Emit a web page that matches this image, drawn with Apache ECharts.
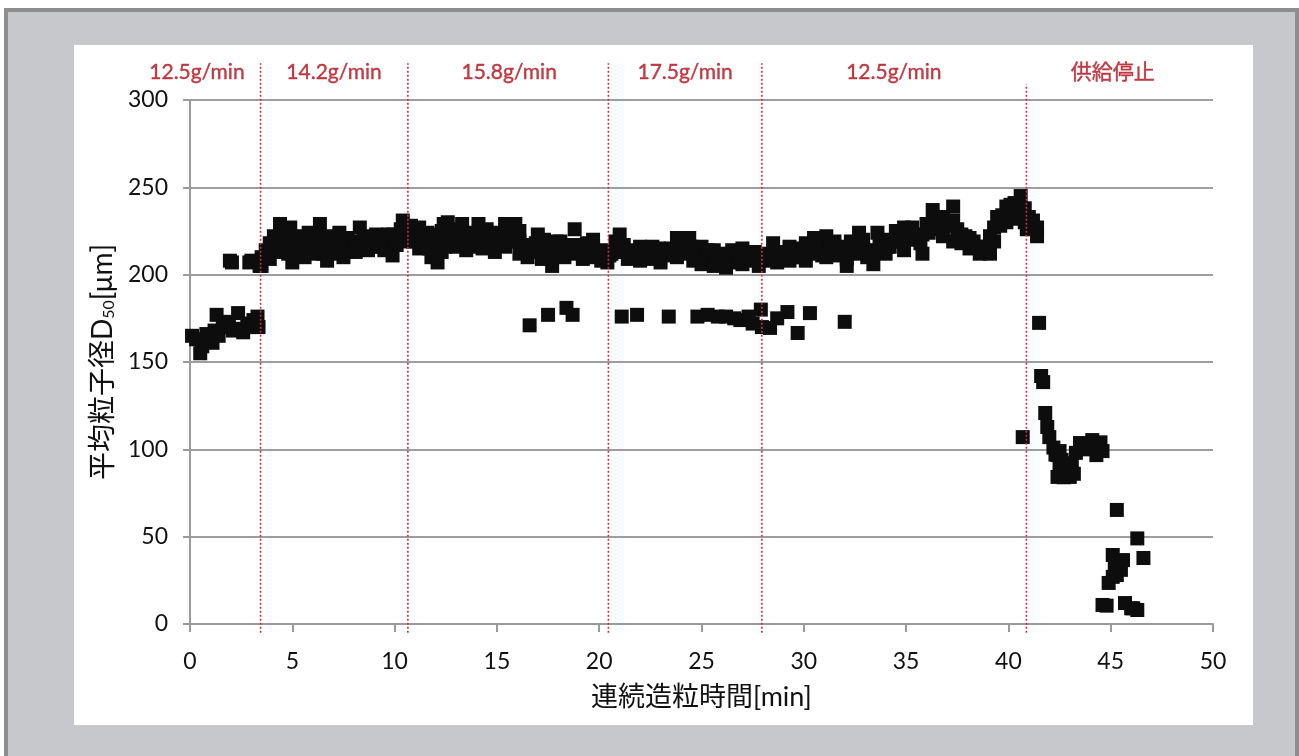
<!DOCTYPE html>
<html>
<head>
<meta charset="utf-8">
<script src="https://cdn.jsdelivr.net/npm/echarts@6/dist/echarts.min.js"></script>
<style>
  html, body { margin: 0; padding: 0; background: #ffffff; }
  #frame {
    position: absolute; left: 4px; top: 8px; width: 1287px; height: 748px;
    background: #c6c8cb; border: 4px solid #8e8e8e; border-bottom: none;
  }
  #panel {
    position: absolute; left: 74px; top: 45px; width: 1179px; height: 680px;
    background: #ffffff;
  }
  #chart { position: absolute; left: 0; top: 0; width: 1299px; height: 756px; }
</style>
</head>
<body>
<div id="frame"></div>
<div id="panel"></div>
<div id="chart"></div>
<script>
// Start-up at 12.5 g/min: [time (min), D50 (µm)]
const startPhase = [
  [0.1, 165], [0.3, 163], [0.5, 155], [0.6, 159], [0.8, 166], [0.9, 162],
  [1.1, 161], [1.2, 168], [1.3, 177], [1.4, 165], [1.6, 170], [1.8, 170],
  [1.9, 173], [2.1, 168], [2.35, 178], [2.45, 169], [2.6, 167], [2.8, 172],
  [2.9, 170], [3.1, 174], [3.3, 176], [3.35, 170],
  [1.95, 208], [2.05, 207], [2.9, 207], [3.0, 208], [3.4, 205]
];

// Main granulation band: [time (min), D50 (µm)]
const mainBand = [
  [3.5, 210], [3.5, 205], [3.7, 214], [3.9, 218], [3.9, 209], [4.1, 222],
  [4.3, 216], [4.4, 229], [4.5, 213], [4.6, 225], [4.8, 219], [4.9, 227],
  [5.0, 207], [5.0, 216], [5.2, 222], [5.4, 214], [5.6, 219], [5.6, 210],
  [5.8, 224], [6.0, 215], [6.2, 212], [6.2, 221], [6.35, 229], [6.5, 217],
  [6.7, 208], [6.7, 222], [6.9, 214], [7.1, 219], [7.3, 212], [7.3, 224],
  [7.5, 210], [7.5, 217], [7.7, 221], [7.9, 215], [8.1, 219], [8.1, 213],
  [8.3, 227], [8.5, 218], [8.7, 214], [8.7, 222], [8.9, 220], [9.1, 216],
  [9.1, 223], [9.3, 221], [9.5, 214], [9.7, 219], [9.9, 211], [9.9, 223],
  [10.1, 217], [10.3, 226], [10.4, 231], [10.6, 225], [10.6, 219], [10.8, 228],
  [11.0, 222], [11.2, 227], [11.2, 215], [11.4, 220], [11.6, 224], [11.8, 210],
  [11.8, 218], [12.0, 223], [12.1, 207], [12.3, 213], [12.3, 225], [12.4, 229],
  [12.6, 230], [12.6, 219], [12.8, 222], [13.0, 216], [13.0, 226], [13.3, 229],
  [13.5, 220], [13.5, 214], [13.7, 224], [13.9, 218], [14.1, 229], [14.1, 221],
  [14.3, 215], [14.5, 226], [14.7, 219], [14.9, 224], [14.9, 213], [15.1, 221],
  [15.4, 229], [15.4, 216], [15.6, 223], [15.9, 229], [16.1, 219], [16.1, 212],
  [16.3, 215], [16.5, 210], [16.7, 217], [17.0, 223], [17.0, 213], [17.2, 209],
  [17.4, 216], [17.7, 205], [17.7, 212], [17.9, 219], [18.1, 214], [18.3, 210],
  [18.5, 217], [18.8, 226], [18.8, 212], [19.0, 215], [19.2, 209], [19.4, 218],
  [19.7, 220], [19.7, 210], [19.9, 213], [20.1, 208], [20.3, 214], [20.4, 207],
  [20.6, 212], [20.8, 219], [21.0, 223], [21.0, 213], [21.2, 217], [21.4, 209],
  [21.6, 214], [21.8, 211], [22.0, 216], [22.0, 208], [22.2, 212], [22.4, 209],
  [22.6, 216], [22.8, 210], [23.0, 213], [23.0, 207], [23.2, 211], [23.5, 215],
  [23.8, 221], [23.8, 210], [24.0, 214], [24.2, 219], [24.4, 221], [24.4, 212],
  [24.6, 208], [24.8, 213], [25.0, 216], [25.0, 206], [25.2, 211], [25.4, 209],
  [25.6, 214], [25.6, 205], [25.8, 208], [26.0, 212], [26.2, 204], [26.2, 210],
  [26.4, 207], [26.6, 211], [26.8, 208], [27.0, 215], [27.0, 206], [27.2, 210],
  [27.4, 208], [27.6, 213], [27.8, 209], [27.8, 205], [28.0, 212], [28.3, 210],
  [28.5, 218], [28.7, 207], [28.9, 213], [29.1, 210], [29.3, 216], [29.3, 208],
  [29.5, 212], [29.7, 215], [29.9, 210], [30.1, 218], [30.1, 208], [30.3, 213],
  [30.5, 221], [30.7, 212], [30.9, 216], [31.1, 222], [31.1, 210], [31.3, 214],
  [31.5, 219], [31.7, 211], [31.9, 216], [32.1, 205], [32.1, 213], [32.3, 219],
  [32.5, 212], [32.7, 224], [32.9, 215], [33.1, 210], [33.4, 206], [33.4, 214],
  [33.6, 224], [33.8, 217], [34.0, 220], [34.0, 212], [34.2, 216], [34.5, 225],
  [34.7, 219], [34.9, 227], [34.9, 214], [35.1, 221], [35.3, 227], [35.5, 220],
  [35.8, 212], [35.8, 223], [36.0, 229], [36.3, 237], [36.3, 226], [36.5, 231],
  [36.8, 233], [36.8, 222], [37.0, 228], [37.3, 239], [37.3, 219], [37.5, 226],
  [37.7, 218], [37.9, 222], [38.1, 215], [38.3, 219], [38.6, 212], [38.8, 216],
  [39.1, 212], [39.1, 222], [39.3, 227], [39.45, 233], [39.6, 228], [39.9, 239],
  [39.9, 230], [40.1, 235], [40.3, 241], [40.5, 236], [40.6, 245], [40.8, 238],
  [40.8, 230], [41.0, 233], [41.2, 228], [41.4, 227], [41.4, 222]
];

// Further readings inside the main band: [time (min), D50 (µm)]
const mainBandInner = [
  [4.0, 215], [4.4, 220], [4.8, 212], [5.3, 218], [5.7, 215], [6.1, 218],
  [6.5, 212], [6.9, 219], [7.3, 216], [7.7, 213], [8.1, 216], [8.5, 221],
  [8.9, 216], [9.3, 217], [9.7, 223], [10.1, 221], [10.5, 222], [10.9, 219],
  [11.3, 223], [11.7, 215], [12.1, 220], [12.5, 216], [12.9, 220], [13.3, 223],
  [13.7, 218], [14.1, 216], [14.5, 220], [14.9, 218], [15.3, 222], [15.7, 219],
  [16.1, 225], [16.5, 216], [16.9, 218], [17.3, 220], [17.7, 215], [18.1, 219],
  [18.5, 213], [18.9, 217], [19.3, 213], [19.7, 215], [20.1, 213], [20.5, 211],
  [20.9, 216], [21.3, 213], [21.7, 210], [22.1, 214], [22.5, 212], [22.9, 215],
  [23.3, 214], [23.7, 212], [24.1, 217], [24.5, 216], [24.9, 210], [25.3, 214],
  [25.7, 211], [26.1, 207], [26.5, 214], [26.9, 210], [27.3, 212], [27.7, 211],
  [28.1, 208], [28.5, 212], [28.9, 209], [29.3, 212], [29.7, 210], [30.1, 213],
  [30.5, 216], [30.9, 211], [31.3, 218], [31.7, 215], [32.1, 209], [32.5, 217],
  [32.9, 220], [33.3, 212], [33.7, 219], [34.1, 216], [34.5, 219], [34.9, 221],
  [35.3, 223], [35.7, 218], [36.1, 224], [36.5, 227], [36.9, 229], [37.3, 231],
  [37.7, 223], [38.1, 221], [38.5, 216], [38.9, 214], [39.3, 219], [39.7, 234],
  [40.1, 240], [40.5, 232], [40.9, 226], [41.2, 231]
];

// Secondary population around 175 µm: [time (min), D50 (µm)]
const lowerBand = [
  [16.6, 171], [17.5, 177], [18.4, 181], [18.7, 177], [21.1, 176], [21.85, 177],
  [23.4, 176], [24.8, 176], [25.3, 177], [25.8, 176], [26.2, 176], [26.6, 175],
  [26.9, 174], [27.3, 176], [27.5, 172], [27.9, 180], [27.95, 170], [28.35, 169.5],
  [28.7, 175], [29.2, 178.6], [29.7, 166.6], [30.3, 178], [32.0, 173]
];

// After the feed is stopped: [time (min), D50 (µm)]
const stopPhase = [
  [40.7, 107], [41.5, 172.4], [41.6, 142], [41.7, 138.5], [41.8, 120.8], [41.9, 112.8],
  [42.0, 107], [42.2, 101], [42.3, 97], [42.4, 96.7], [42.5, 99], [42.4, 84.2],
  [42.5, 90], [42.6, 94], [42.8, 88], [42.7, 84], [43.0, 84.2], [43.1, 92],
  [43.2, 86], [43.3, 98], [43.5, 103.6], [43.8, 100], [44.1, 105.3], [44.3, 96.7],
  [44.4, 100.8], [44.5, 104], [44.6, 99], [45.3, 65.3], [46.3, 49],
  [46.6, 37.8], [45.1, 39.5], [45.2, 32.6], [45.1, 27], [44.9, 23.5], [45.5, 31],
  [45.3, 28], [45.6, 36.6], [44.6, 10.9], [44.8, 10.5], [45.7, 12], [46.0, 9],
  [46.1, 9], [46.3, 8]
];

// Feed-rate change times (min) and the upper end of each divider (µm scale)
const dividerTimes = [3.45, 10.65, 20.45, 27.95, 40.88];
const dividerTops = [321, 321, 321, 321, 309];
const dividerBottom = -5;

// Feed-rate labels and their horizontal centres (min)
const segmentLabels = ['12.5g/min', '14.2g/min', '15.8g/min', '17.5g/min', '12.5g/min', '供給停止'];
const segmentCenters = [0.34, 7.04, 15.6, 24.2, 34.4, 45.1];
const segmentLabelLevel = 316;

const xTicks = { min: 0, max: 50, interval: 5 };
const yTicks = { min: 0, max: 300, interval: 50 };

const FONT = 'Lato, "Noto Sans CJK JP", sans-serif';
const RED = '#b3101c';
const AXIS_GRAY = '#9a9a9a';
const GRID_GRAY = '#7e7e7e';

const chart = echarts.init(document.getElementById('chart'), null, { renderer: 'canvas' });

const scatterStyle = {
  type: 'scatter',
  symbol: 'rect',
  symbolSize: 14,
  itemStyle: { color: '#0d0d0d', opacity: 1 },
  silent: true,
  z: 3
};

const dividerSeries = dividerTimes.map((t, i) => ({
  type: 'line',
  data: [[t, dividerBottom], [t, dividerTops[i]]],
  symbol: 'none',
  clip: false,
  silent: true,
  lineStyle: { color: '#cc2f3d', width: 1.6, type: [2, 2] },
  z: 4
}));

const labelSeries = {
  type: 'scatter',
  data: segmentCenters.map((c, i) => ({ value: [c, segmentLabelLevel], name: segmentLabels[i] })),
  symbolSize: 0,
  clip: false,
  silent: true,
  label: {
    show: true,
    position: 'inside',
    formatter: p => p.name,
    color: RED,
    fontSize: 21,
    fontFamily: FONT,
    textBorderColor: RED,
    textBorderWidth: 0.4
  },
  z: 5
};

chart.setOption({
  animation: false,
  backgroundColor: 'transparent',
  grid: { left: 190, right: 86, top: 100, bottom: 132 },
  xAxis: {
    type: 'value',
    min: xTicks.min, max: xTicks.max, interval: xTicks.interval,
    name: '連続造粒時間[min]',
    nameLocation: 'middle',
    nameGap: 60,
    nameTextStyle: { color: '#111', fontSize: 27, fontFamily: FONT },
    axisLine: { lineStyle: { color: AXIS_GRAY, width: 2 } },
    axisTick: { show: true, length: 8, lineStyle: { color: AXIS_GRAY, width: 2 } },
    axisLabel: { color: '#111', fontSize: 23, fontFamily: FONT, margin: 26 },
    splitLine: { show: false }
  },
  yAxis: {
    type: 'value',
    min: yTicks.min, max: yTicks.max, interval: yTicks.interval,
    name: '平均粒子径D{sub|50}[μm]',
    nameLocation: 'middle',
    nameGap: 72,
    nameTextStyle: {
      color: '#111', fontSize: 28, fontFamily: FONT,
      rich: {
        sub: { fontSize: 16, fontFamily: FONT, color: '#111', verticalAlign: 'bottom', padding: [12, 0, 0, 0] }
      }
    },
    axisLine: { show: true, lineStyle: { color: AXIS_GRAY, width: 2 } },
    axisTick: { show: true, length: 7, lineStyle: { color: AXIS_GRAY, width: 2 } },
    axisLabel: { color: '#111', fontSize: 23, fontFamily: FONT, margin: 22 },
    splitLine: { show: true, lineStyle: { color: GRID_GRAY, width: 1.5 } }
  },
  series: [
    Object.assign({ data: startPhase }, scatterStyle),
    Object.assign({ data: mainBand }, scatterStyle),
    Object.assign({ data: mainBandInner }, scatterStyle),
    Object.assign({ data: lowerBand }, scatterStyle),
    Object.assign({ data: stopPhase }, scatterStyle),
    ...dividerSeries,
    labelSeries
  ]
});
</script>
</body>
</html>
